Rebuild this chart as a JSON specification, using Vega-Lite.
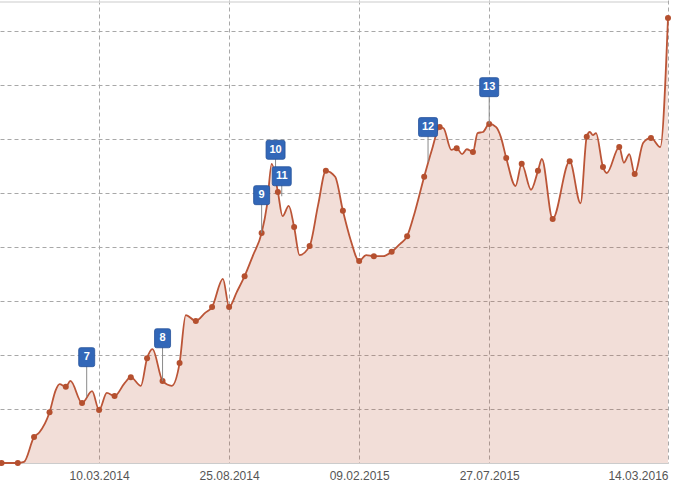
{
  "$schema": "https://vega.github.io/schema/vega-lite/v6.json",
  "width": 668,
  "height": 463,
  "autosize": "none",
  "padding": {"left": 0, "top": 0, "right": 21, "bottom": 23},
  "background": "white",
  "config": {"view": {"stroke": null}, "font": "Liberation Sans"},
  "datasets": {
    "series": [
      {"date": "2013-11-04", "value": 0, "marker": true},
      {"date": "2013-11-25", "value": 0, "marker": true},
      {"date": "2013-12-03", "value": 0.02, "marker": false},
      {"date": "2013-12-16", "value": 0.48, "marker": true},
      {"date": "2013-12-23", "value": 0.57, "marker": false},
      {"date": "2014-01-05", "value": 0.94, "marker": true},
      {"date": "2014-01-13", "value": 1.35, "marker": false},
      {"date": "2014-01-18", "value": 1.46, "marker": false},
      {"date": "2014-01-26", "value": 1.41, "marker": true},
      {"date": "2014-02-01", "value": 1.52, "marker": false},
      {"date": "2014-02-16", "value": 1.11, "marker": true},
      {"date": "2014-03-01", "value": 1.33, "marker": false},
      {"date": "2014-03-10", "value": 0.98, "marker": true},
      {"date": "2014-03-20", "value": 1.30, "marker": false},
      {"date": "2014-03-30", "value": 1.24, "marker": true},
      {"date": "2014-04-12", "value": 1.48, "marker": false},
      {"date": "2014-04-20", "value": 1.59, "marker": true},
      {"date": "2014-05-03", "value": 1.43, "marker": false},
      {"date": "2014-05-11", "value": 1.94, "marker": true},
      {"date": "2014-05-18", "value": 2.11, "marker": false},
      {"date": "2014-05-31", "value": 1.52, "marker": true},
      {"date": "2014-06-12", "value": 1.43, "marker": false},
      {"date": "2014-06-22", "value": 1.85, "marker": true},
      {"date": "2014-06-30", "value": 2.74, "marker": false},
      {"date": "2014-07-13", "value": 2.63, "marker": true},
      {"date": "2014-07-25", "value": 2.78, "marker": false},
      {"date": "2014-08-03", "value": 2.89, "marker": true},
      {"date": "2014-08-17", "value": 3.41, "marker": false},
      {"date": "2014-08-25", "value": 2.89, "marker": true},
      {"date": "2014-09-04", "value": 3.17, "marker": false},
      {"date": "2014-09-14", "value": 3.46, "marker": true},
      {"date": "2014-09-25", "value": 3.85, "marker": false},
      {"date": "2014-10-06", "value": 4.26, "marker": true},
      {"date": "2014-10-13", "value": 4.78, "marker": false},
      {"date": "2014-10-19", "value": 5.54, "marker": false},
      {"date": "2014-10-27", "value": 5.02, "marker": true},
      {"date": "2014-11-02", "value": 4.57, "marker": false},
      {"date": "2014-11-10", "value": 4.76, "marker": false},
      {"date": "2014-11-17", "value": 4.37, "marker": true},
      {"date": "2014-11-24", "value": 3.85, "marker": false},
      {"date": "2014-12-07", "value": 4.02, "marker": true},
      {"date": "2014-12-18", "value": 4.78, "marker": false},
      {"date": "2014-12-28", "value": 5.41, "marker": true},
      {"date": "2015-01-09", "value": 5.30, "marker": false},
      {"date": "2015-01-19", "value": 4.67, "marker": true},
      {"date": "2015-01-29", "value": 4.13, "marker": false},
      {"date": "2015-02-09", "value": 3.74, "marker": true},
      {"date": "2015-02-18", "value": 3.85, "marker": false},
      {"date": "2015-02-28", "value": 3.83, "marker": true},
      {"date": "2015-03-12", "value": 3.83, "marker": false},
      {"date": "2015-03-23", "value": 3.91, "marker": true},
      {"date": "2015-04-03", "value": 4.06, "marker": false},
      {"date": "2015-04-12", "value": 4.20, "marker": true},
      {"date": "2015-04-22", "value": 4.65, "marker": false},
      {"date": "2015-05-04", "value": 5.30, "marker": true},
      {"date": "2015-05-14", "value": 5.80, "marker": false},
      {"date": "2015-05-24", "value": 6.22, "marker": true},
      {"date": "2015-05-29", "value": 6.20, "marker": false},
      {"date": "2015-06-08", "value": 5.80, "marker": false},
      {"date": "2015-06-15", "value": 5.83, "marker": true},
      {"date": "2015-06-22", "value": 5.72, "marker": false},
      {"date": "2015-06-28", "value": 5.81, "marker": false},
      {"date": "2015-07-06", "value": 5.76, "marker": true},
      {"date": "2015-07-12", "value": 6.11, "marker": false},
      {"date": "2015-07-19", "value": 6.13, "marker": false},
      {"date": "2015-07-27", "value": 6.28, "marker": true},
      {"date": "2015-08-05", "value": 6.22, "marker": false},
      {"date": "2015-08-11", "value": 6.04, "marker": false},
      {"date": "2015-08-18", "value": 5.65, "marker": true},
      {"date": "2015-08-30", "value": 5.13, "marker": false},
      {"date": "2015-09-07", "value": 5.54, "marker": true},
      {"date": "2015-09-19", "value": 5.06, "marker": false},
      {"date": "2015-09-28", "value": 5.41, "marker": true},
      {"date": "2015-10-03", "value": 5.63, "marker": false},
      {"date": "2015-10-17", "value": 4.52, "marker": true},
      {"date": "2015-11-08", "value": 5.59, "marker": true},
      {"date": "2015-11-22", "value": 4.81, "marker": false},
      {"date": "2015-11-30", "value": 6.04, "marker": true},
      {"date": "2015-12-04", "value": 6.13, "marker": false},
      {"date": "2015-12-08", "value": 6.07, "marker": false},
      {"date": "2015-12-12", "value": 6.11, "marker": false},
      {"date": "2015-12-21", "value": 5.48, "marker": true},
      {"date": "2015-12-26", "value": 5.37, "marker": false},
      {"date": "2016-01-11", "value": 5.85, "marker": true},
      {"date": "2016-01-17", "value": 5.56, "marker": false},
      {"date": "2016-01-24", "value": 5.72, "marker": false},
      {"date": "2016-01-31", "value": 5.35, "marker": true},
      {"date": "2016-02-11", "value": 5.93, "marker": false},
      {"date": "2016-02-21", "value": 6.02, "marker": true},
      {"date": "2016-03-04", "value": 5.85, "marker": false},
      {"date": "2016-03-14", "value": 8.24, "marker": true}
    ],
    "flags": [
      {"date": "2014-02-22", "label": "7", "top": 1.96, "base": 1.22},
      {"date": "2014-05-31", "label": "8", "top": 2.31, "base": 1.52},
      {"date": "2014-10-06", "label": "9", "top": 4.96, "base": 4.26},
      {"date": "2014-10-24", "label": "10", "top": 5.80, "base": 5.43},
      {"date": "2014-11-01", "label": "11", "top": 5.31, "base": 4.94},
      {"date": "2015-05-09", "label": "12", "top": 6.22, "base": 5.57},
      {"date": "2015-07-27", "label": "13", "top": 6.96, "base": 6.28}
    ],
    "border": [{"value": 8.537}]
  },
  "encoding": {
    "x": {
      "field": "date",
      "type": "temporal",
      "scale": {
        "type": "utc",
        "domain": [
          {"year": 2013, "month": 11, "date": 2, "utc": true},
          {"year": 2016, "month": 3, "date": 14, "utc": true}
        ]
      },
      "axis": {
        "title": null,
        "values": [
          {"year": 2014, "month": 3, "date": 10, "utc": true},
          {"year": 2014, "month": 8, "date": 25, "utc": true},
          {"year": 2015, "month": 2, "date": 9, "utc": true},
          {"year": 2015, "month": 7, "date": 27, "utc": true},
          {"year": 2016, "month": 3, "date": 14, "utc": true}
        ],
        "format": "%d.%m.%Y",
        "labelFlush": true,
        "labelFont": "Liberation Sans",
        "labelFontSize": 12,
        "labelColor": "#555555",
        "labelPadding": 7,
        "ticks": false,
        "domainColor": "#cccccc",
        "grid": true,
        "gridColor": "#a8a8a8",
        "gridDash": [4, 3],
        "gridWidth": 1
      }
    }
  },
  "layer": [
    {
      "data": {"name": "series"},
      "mark": {"type": "area", "interpolate": "monotone", "color": "#c0583a", "opacity": 0.2},
      "encoding": {
        "y": {
          "field": "value",
          "type": "quantitative",
          "scale": {"domain": [0, 8.574], "nice": false, "zero": true},
          "axis": {
            "title": null,
            "values": [1, 2, 3, 4, 5, 6, 7, 8],
            "labels": false,
            "ticks": false,
            "domain": false,
            "grid": true,
            "gridColor": "#a8a8a8",
            "gridDash": [4, 3],
            "gridWidth": 1
          }
        }
      }
    },
    {
      "data": {"name": "series"},
      "mark": {"type": "line", "interpolate": "monotone", "color": "#bb5537", "strokeWidth": 1.8},
      "encoding": {"y": {"field": "value", "type": "quantitative"}}
    },
    {
      "data": {"name": "series"},
      "transform": [{"filter": "datum.marker"}],
      "mark": {"type": "point", "filled": true, "color": "#b5502f", "size": 36, "opacity": 1},
      "encoding": {"y": {"field": "value", "type": "quantitative"}}
    },
    {
      "data": {"name": "border"},
      "mark": {"type": "rule", "color": "#dddddd", "strokeWidth": 1.5},
      "encoding": {"y": {"field": "value", "type": "quantitative"}, "x": null}
    },
    {
      "data": {"name": "flags"},
      "mark": {"type": "rule", "color": "#8a8a8a", "strokeWidth": 1},
      "encoding": {
        "y": {"field": "top", "type": "quantitative"},
        "y2": {"field": "base"}
      }
    },
    {
      "data": {"name": "flags"},
      "transform": [{"filter": "length(datum.label) == 1"}],
      "mark": {
        "type": "point",
        "filled": true,
        "shape": "M-0.6,-0.95L0.6,-0.95Q0.8,-0.95 0.8,-0.75L0.8,0.75Q0.8,0.95 0.6,0.95L-0.6,0.95Q-0.8,0.95 -0.8,0.75L-0.8,-0.75Q-0.8,-0.95 -0.6,-0.95Z",
        "size": 400,
        "color": "#3267b8",
        "stroke": "#25529a",
        "strokeWidth": 0.8,
        "opacity": 1
      },
      "encoding": {"y": {"field": "top", "type": "quantitative"}}
    },
    {
      "data": {"name": "flags"},
      "transform": [{"filter": "length(datum.label) == 2"}],
      "mark": {
        "type": "point",
        "filled": true,
        "shape": "M-0.75,-0.95L0.75,-0.95Q0.95,-0.95 0.95,-0.75L0.95,0.75Q0.95,0.95 0.75,0.95L-0.75,0.95Q-0.95,0.95 -0.95,0.75L-0.95,-0.75Q-0.95,-0.95 -0.75,-0.95Z",
        "size": 400,
        "color": "#3267b8",
        "stroke": "#25529a",
        "strokeWidth": 0.8,
        "opacity": 1
      },
      "encoding": {"y": {"field": "top", "type": "quantitative"}}
    },
    {
      "data": {"name": "flags"},
      "mark": {"type": "text", "color": "white", "font": "Liberation Sans", "fontSize": 11, "fontWeight": "bold", "baseline": "middle", "align": "center"},
      "encoding": {
        "y": {"field": "top", "type": "quantitative"},
        "text": {"field": "label"}
      }
    }
  ]
}
